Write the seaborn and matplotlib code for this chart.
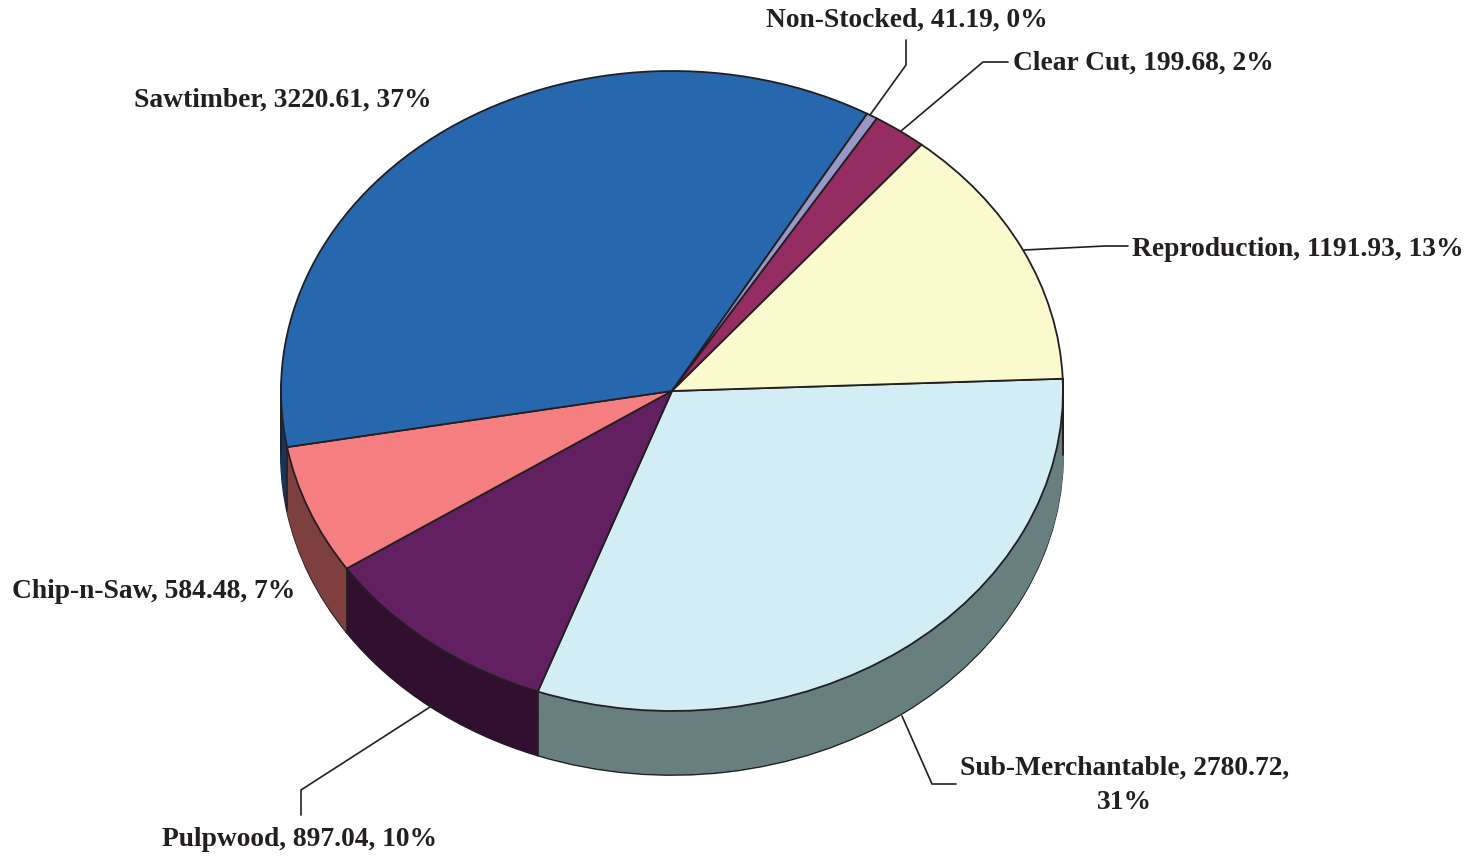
import numpy as np
import matplotlib
matplotlib.use('Agg')
import matplotlib.pyplot as plt
import seaborn as sns

# clockwise from the right hand side of the pie
names = ['Sub-Merchantable', 'Pulpwood', 'Chip-n-Saw', 'Sawtimber', 'Non-Stocked', 'Clear Cut', 'Reproduction']
acres = [2780.72, 897.04, 584.48, 3220.61, 41.19, 199.68, 1191.93]
percents = [31, 10, 7, 37, 0, 2, 13]
top_colors = ['#d3edf4', '#622060', '#f57e80', '#2767ae', '#9898c8', '#952c62', '#fbfacf']
side_colors = ['#687f7f', '#310f2f', '#7e3f3f', '#15365c', '#4c4c64', '#4a1631', '#7d7d67']

W, H = 1483, 856
cx, cy, rx, ry = 672, 391, 391, 320
depth = 64 / ry
start_angle = 2.2
ink = '#231f20'

sns.set_theme(style='white')
plt.rcParams['font.family'] = ['Liberation Serif', 'DejaVu Serif']

fig = plt.figure(figsize=(W / 100, H / 100), dpi=100)
ax = fig.add_axes([0, 0, 1, 1])

# side wall: stack of offset pies, bottom one has the outline
tops = sns.color_palette(top_colors)
sides = sns.color_palette(side_colors)
ax.pie(acres, colors=sides, startangle=start_angle, counterclock=False, center=(0, -depth),
       wedgeprops={'edgecolor': ink, 'linewidth': 1.3})
for d in np.linspace(depth, 0, 70)[1:-1]:
    layer, _ = ax.pie(acres, colors=sides, startangle=start_angle, counterclock=False, center=(0, -d))
    for w in layer:
        w.set_edgecolor(w.get_facecolor())
        w.set_linewidth(0.6)

wedges, _ = ax.pie(acres, colors=tops, startangle=start_angle, counterclock=False,
                   wedgeprops={'edgecolor': ink, 'linewidth': 1.3})

# wall seams where a slice boundary faces the viewer
for w in wedges:
    th = np.deg2rad(w.theta1)
    x, y = np.cos(th), np.sin(th)
    if y < 0.3 and -0.99 < x:
        ax.plot([x, x], [y, y - depth], color=ink, lw=1.2, solid_capstyle='butt')
ax.plot([-1, -1], [0, -depth], color=ink, lw=1.3)
ax.plot([1, 1], [np.sin(np.deg2rad(start_angle)), -depth], color=ink, lw=1.3)

ax.set_aspect('auto')
ax.set_xlim(-cx / rx, (W - cx) / rx)
ax.set_ylim((cy - H) / ry, cy / ry)

# labels and leaders in pixel coordinates
ov = fig.add_axes([0, 0, 1, 1], facecolor='none')
ov.set_xlim(0, W)
ov.set_ylim(H, 0)
ov.axis('off')

leaders = [
    ([870, 906, 906], [115, 65, 40]),
    ([901, 983, 1008], [131, 62, 62]),
    ([1024, 1105, 1128], [250, 246, 246]),
    ([902, 932, 956], [716, 784, 784]),
    ([430, 301, 301], [707, 790, 815]),
]
for xs, ys in leaders:
    ov.plot(xs, ys, color=ink, lw=1.2, solid_joinstyle='miter')

spots = {
    'Non-Stocked': (766, 20, 'left'),
    'Clear Cut': (1013, 63, 'left'),
    'Reproduction': (1132, 249, 'left'),
    'Sub-Merchantable': (1125, 785, 'center'),
    'Pulpwood': (162, 840, 'left'),
    'Chip-n-Saw': (12, 591, 'left'),
    'Sawtimber': (134, 100, 'left'),
}
for name, val, pct in zip(names, acres, percents):
    x, y, ha = spots[name]
    label = f'{name}, {val}, {pct}%'
    if name == 'Sub-Merchantable':
        label = f'{name}, {val},\n{pct}%'
    ov.text(x, y, label, ha=ha, va='center', fontsize=19.8, fontweight='bold', color=ink, linespacing=1.5)

fig.savefig('out.png', dpi=100)
